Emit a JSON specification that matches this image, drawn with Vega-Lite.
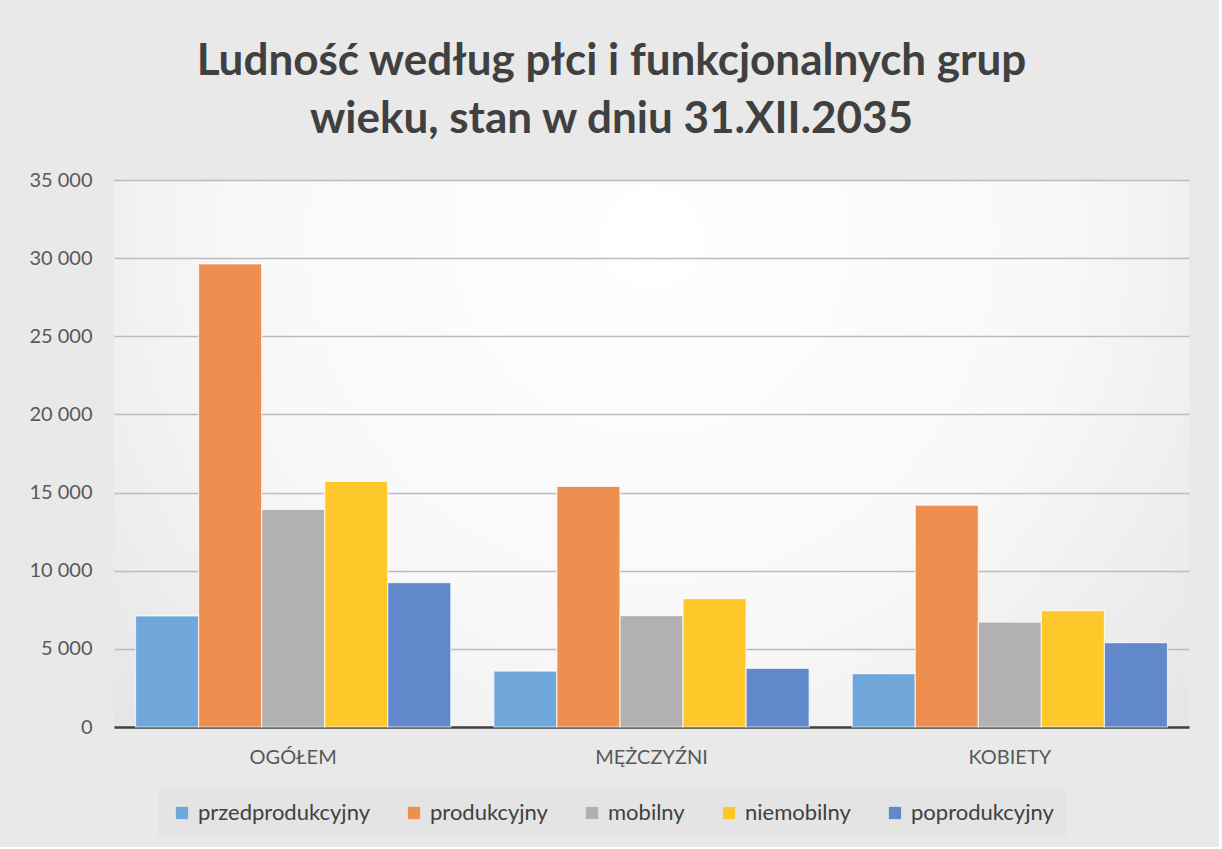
{
  "$schema": "https://vega.github.io/schema/vega-lite/v6.json",
  "width": 1075,
  "height": 547,
  "padding": {"left": 28, "top": 40, "right": 30, "bottom": 10},
  "background": "#e9e9e9",
  "config": {
    "locale": {"number": {"decimal": ",", "thousands": " ", "grouping": [3], "currency": ["", " zł"]}},
    "view": {"stroke": null, "fill": {"gradient": "radial", "x1": 0.5, "y1": 0.3, "x2": 0.5, "y2": 0.3, "r1": 0, "r2": 0.85, "stops": [{"offset": 0, "color": "#ffffff"}, {"offset": 0.45, "color": "#f8f8f8"}, {"offset": 1, "color": "#dadada"}]}},
    "font": "Lato"
  },
  "title": {
    "text": ["Ludność według płci i funkcjonalnych grup", "wieku, stan w dniu 31.XII.2035"],
    "fontSize": 44,
    "fontWeight": "bold",
    "font": "Lato",
    "color": "#404040",
    "lineHeight": 58,
    "offset": 28,
    "anchor": "middle",
    "dx": -40
  },
  "data": {
    "values": [
      {"grupa": "OGÓŁEM", "kategoria": "przedprodukcyjny", "ludnosc": 7105},
      {"grupa": "OGÓŁEM", "kategoria": "produkcyjny", "ludnosc": 29630},
      {"grupa": "OGÓŁEM", "kategoria": "mobilny", "ludnosc": 13920},
      {"grupa": "OGÓŁEM", "kategoria": "niemobilny", "ludnosc": 15710},
      {"grupa": "OGÓŁEM", "kategoria": "poprodukcyjny", "ludnosc": 9230},
      {"grupa": "MĘŻCZYŹNI", "kategoria": "przedprodukcyjny", "ludnosc": 3580},
      {"grupa": "MĘŻCZYŹNI", "kategoria": "produkcyjny", "ludnosc": 15390},
      {"grupa": "MĘŻCZYŹNI", "kategoria": "mobilny", "ludnosc": 7125},
      {"grupa": "MĘŻCZYŹNI", "kategoria": "niemobilny", "ludnosc": 8210},
      {"grupa": "MĘŻCZYŹNI", "kategoria": "poprodukcyjny", "ludnosc": 3755},
      {"grupa": "KOBIETY", "kategoria": "przedprodukcyjny", "ludnosc": 3415},
      {"grupa": "KOBIETY", "kategoria": "produkcyjny", "ludnosc": 14195},
      {"grupa": "KOBIETY", "kategoria": "mobilny", "ludnosc": 6715},
      {"grupa": "KOBIETY", "kategoria": "niemobilny", "ludnosc": 7440},
      {"grupa": "KOBIETY", "kategoria": "poprodukcyjny", "ludnosc": 5395}
    ]
  },
  "mark": {"type": "bar", "stroke": "#ffffff", "strokeWidth": 1.2, "strokeOpacity": 0.7},
  "encoding": {
    "x": {
      "field": "grupa",
      "type": "nominal",
      "sort": ["OGÓŁEM", "MĘŻCZYŹNI", "KOBIETY"],
      "scale": {"paddingInner": 0.12, "paddingOuter": 0.06},
      "axis": {
        "title": null,
        "labelAngle": 0,
        "labelFontSize": 20,
        "labelColor": "#595959",
        "labelPadding": 20,
        "ticks": false,
        "domainColor": "#404040",
        "domainWidth": 2.5
      }
    },
    "xOffset": {
      "field": "kategoria",
      "type": "nominal",
      "sort": ["przedprodukcyjny", "produkcyjny", "mobilny", "niemobilny", "poprodukcyjny"],
      "scale": {"paddingInner": 0, "paddingOuter": 0}
    },
    "y": {
      "field": "ludnosc",
      "type": "quantitative",
      "scale": {"domain": [0, 35000]},
      "axis": {
        "title": null,
        "values": [0, 5000, 10000, 15000, 20000, 25000, 30000, 35000],
        "format": ",d",
        "labelFontSize": 20,
        "labelColor": "#595959",
        "labelPadding": 22,
        "ticks": false,
        "domain": false,
        "gridColor": "#bcbcbc",
        "gridWidth": 1.5
      }
    },
    "color": {
      "field": "kategoria",
      "type": "nominal",
      "sort": ["przedprodukcyjny", "produkcyjny", "mobilny", "niemobilny", "poprodukcyjny"],
      "scale": {
        "domain": ["przedprodukcyjny", "produkcyjny", "mobilny", "niemobilny", "poprodukcyjny"],
        "range": ["#6fa7da", "#ee8f4f", "#b1b1b1", "#ffc82a", "#6088cb"]
      },
      "legend": {
        "title": null,
        "orient": "none",
        "legendX": 44,
        "legendY": 609,
        "direction": "horizontal",
        "labelFontSize": 22,
        "labelLimit": 0,
        "labelColor": "#404040",
        "symbolType": "square",
        "symbolSize": 150,
        "symbolStrokeWidth": 0,
        "columnPadding": 33,
        "labelOffset": 5,
        "fillColor": "#e4e4e4",
        "padding": 13
      }
    }
  }
}
